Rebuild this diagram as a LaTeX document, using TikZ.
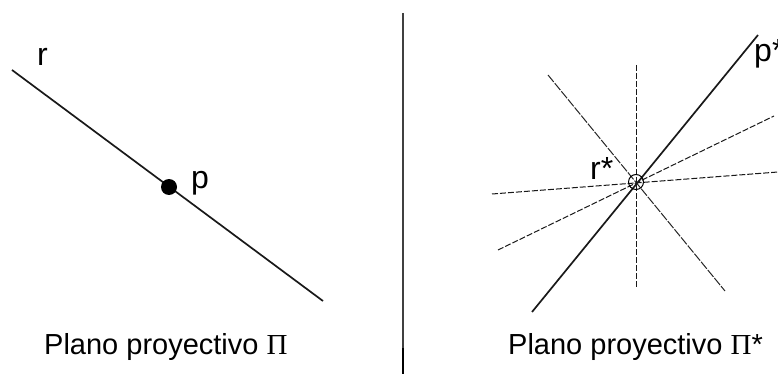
\documentclass[tikz,border=0pt]{standalone}
\usepackage{fontspec}
\setmainfont{Liberation Sans}
\newfontfamily\greekserif{Liberation Serif}
\tikzset{
  lbl/.style={font=\fontsize{29}{30}\selectfont, inner sep=0pt, anchor=base west},
  biglbl/.style={font=\fontsize{32}{33}\selectfont, inner sep=0pt, anchor=base west},
  solidline/.style={line width=1.7pt, black!90},
  dashline/.style={line width=1pt, black!90, dash pattern=on 6pt off 2pt},
  thinline/.style={line width=1pt, black!85, dash pattern=on 9pt off 1.5pt},
}
\begin{document}
\begin{tikzpicture}[x=1pt,y=-1pt]
\useasboundingbox (0,0) rectangle (778,374);
% separator
\coordinate (s1) at (403,13);
\coordinate (s2) at (403,374);
\coordinate (s3) at (403,348);
\draw[line width=1.1pt, black!75] (s1) -- (s2);
\draw[line width=1.8pt, black] (s3) -- (s2);
% left plane
\coordinate (ra) at (12,70);
\coordinate (rb) at (323,301);
\draw[solidline] (ra) -- (rb);
\node[circle, fill=black, minimum size=16pt, inner sep=0pt] (p) at (169,187) {};
\node[biglbl] (rlab) at (37,66) {r};
\node[biglbl] (plab) at (191,188) {p};
\node[lbl] (t1) at (44,354) {Plano proyectivo {\greekserif Π}};
% right plane
\coordinate (c) at (636,182);
\coordinate (pa) at (532,312);
\coordinate (pb) at (758,35);
\draw[solidline] (pa) -- (pb);
\coordinate (va) at (636,65);
\coordinate (vb) at (636,287);
\draw[dashline] (va) -- (vb);
\coordinate (na) at (548,75);
\coordinate (nb) at (725,291);
\draw[thinline] (na) -- (nb);
\coordinate (ha) at (492,194);
\coordinate (hb) at (778,172);
\draw[dashline] (ha) -- (hb);
\coordinate (ma) at (498,250);
\coordinate (mb) at (774,116);
\draw[dashline] (ma) -- (mb);
\node[circle, draw, line width=1pt, minimum size=15pt, inner sep=0pt] (cc) at (c) {};
\node[biglbl] (rslab) at (590,179) {r*};
\node[biglbl] (pslab) at (754,62) {p*};
\node[lbl] (t2) at (508,354) {Plano proyectivo {\greekserif Π}*};
\end{tikzpicture}
\end{document}
